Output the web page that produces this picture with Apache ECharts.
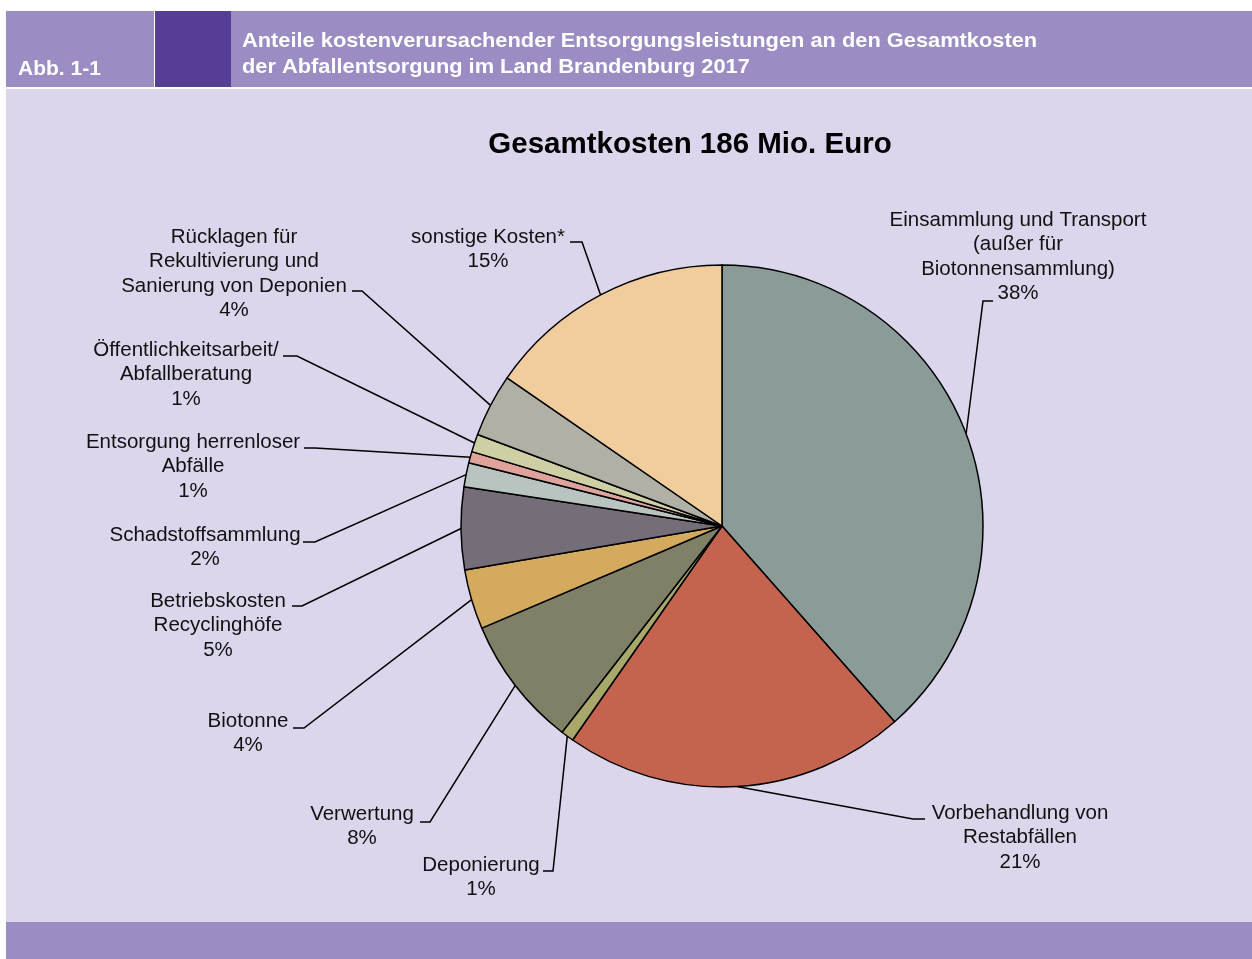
<!DOCTYPE html>
<html>
<head>
<meta charset="utf-8">
<script src="https://cdn.jsdelivr.net/npm/echarts@6/dist/echarts.min.js"></script>
<style>
  html, body { margin: 0; padding: 0; background: #fff; }
  #chart { width: 1252px; height: 959px; }
</style>
</head>
<body>
<div id="chart"></div>
<script>
// Kategorien (Reihenfolge im Uhrzeigersinn ab 12 Uhr)
const names = [
  'Einsammlung und Transport\n(außer für\nBiotonnensammlung)',
  'Vorbehandlung von\nRestabfällen',
  'Deponierung',
  'Verwertung',
  'Biotonne',
  'Betriebskosten\nRecyclinghöfe',
  'Schadstoffsammlung',
  'Entsorgung herrenloser\nAbfälle',
  'Öffentlichkeitsarbeit/\nAbfallberatung',
  'Rücklagen für\nRekultivierung und\nSanierung von Deponien',
  'sonstige Kosten*'
]
// Anteile in %
const shares = [38.5, 21.2, 0.8, 8.1, 3.7, 5.1, 1.5, 0.7, 1.1, 3.9, 15.4]
const pctLabels = ['38%', '21%', '1%', '8%', '4%', '5%', '2%', '1%', '1%', '4%', '15%']
const colors = ['#8a9b98', '#c5644e', '#a8a86a', '#808066', '#d4aa5e', '#756d78',
  '#b8c4c0', '#e0a39b', '#cfcfa5', '#b0b0a5', '#f1cc9c']

// Position der Beschriftungen: [Mitte x, Mitte 1. Zeile y, Haken x (Text), Haken x (Kreis), Haken y]
const labelPos = [
  [1018, 220, 993, 983, 301],
  [1020, 813, 925, 913, 819],
  [481, 865, 543, 553, 871],
  [362, 814, 420, 430, 822],
  [248, 721, 293, 304, 728],
  [218, 601, 292, 302, 606],
  [205, 535, 303, 315, 542],
  [193, 442, 304, 315, 448],
  [186, 350, 283, 297, 356],
  [234, 237, 352, 362, 291],
  [488, 237, 570, 582, 242]
]

const lineH = 24.5
const fontFam = '"Liberation Sans", Arial, sans-serif'

var myChart = echarts.init(document.getElementById('chart'))
var option = {
  backgroundColor: '#fff',
  animation: false,
  graphic: [
    { type: 'rect', silent: true, shape: { x: 6, y: 11, width: 148, height: 76 }, style: { fill: '#9b8dc3' } },
    { type: 'rect', silent: true, shape: { x: 155, y: 11, width: 76, height: 76 }, style: { fill: '#563e96' } },
    { type: 'rect', silent: true, shape: { x: 231, y: 11, width: 1021, height: 76 }, style: { fill: '#9b8dc3' } },
    { type: 'rect', silent: true, shape: { x: 6, y: 89, width: 1246, height: 833 }, style: { fill: '#dbd6ec' } },
    { type: 'rect', silent: true, shape: { x: 6, y: 922, width: 1246, height: 37 }, style: { fill: '#9b8dc3' } },
    {
      type: 'text', silent: true, x: 18, y: 69, scaleX: 1.05,
      style: { text: 'Abb. 1-1', fill: '#fff', font: 'bold 20px ' + fontFam, verticalAlign: 'middle' }
    },
    {
      type: 'text', silent: true, x: 242, y: 54, scaleX: 1.064,
      style: {
        text: 'Anteile kostenverursachender Entsorgungsleistungen an den Gesamtkosten\nder Abfallentsorgung im Land Brandenburg 2017',
        fill: '#fff', font: 'bold 20.5px ' + fontFam, lineHeight: 26, verticalAlign: 'middle'
      }
    }
  ],
  title: {
    text: 'Gesamtkosten 186 Mio. Euro',
    left: 685,
    top: 125,
    textAlign: 'center',
    textStyle: { fontFamily: fontFam, fontSize: 29.5, fontWeight: 'bold', color: '#000' }
  },
  series: [
    {
      type: 'pie',
      center: [722, 526],
      radius: 261,
      startAngle: 90,
      clockwise: true,
      avoidLabelOverlap: false,
      silent: true,
      itemStyle: { borderColor: '#000', borderWidth: 1.5 },
      label: {
        show: true,
        position: 'outside',
        color: '#111',
        fontFamily: fontFam,
        fontSize: 20.5,
        lineHeight: lineH,
        align: 'center',
        formatter: (p) => p.name + '\n' + pctLabels[p.dataIndex]
      },
      labelLine: { show: true, lineStyle: { color: '#000', width: 1.5 } },
      labelLayout: (params) => {
        const lp = labelPos[params.dataIndex]
        const anchor = params.labelLinePoints ? params.labelLinePoints[0] : [lp[3], lp[4]]
        return {
          x: lp[0],
          y: lp[1] - lineH / 2,
          align: 'center',
          verticalAlign: 'top',
          hideOverlap: false,
          labelLinePoints: [anchor, [lp[3], lp[4]], [lp[2], lp[4]]]
        }
      },
      data: names.map((n, i) => ({ name: n, value: shares[i], itemStyle: { color: colors[i] } }))
    }
  ]
}
myChart.setOption(option)
</script>
</body>
</html>
